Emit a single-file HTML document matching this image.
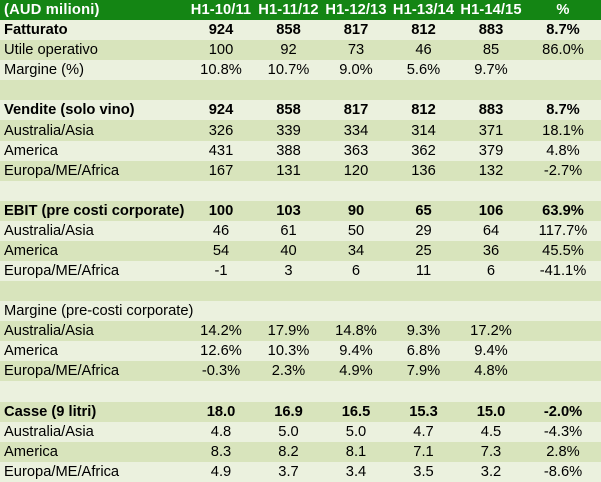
<!DOCTYPE html>
<html><head><meta charset="utf-8"><style>
html,body{margin:0;padding:0;width:601px;height:482px;overflow:hidden;background:#fff}
table{border-collapse:collapse;table-layout:fixed;width:601px;font-family:"Liberation Sans",Arial,sans-serif;font-size:14.7px;color:#000}
td{height:20.08px;padding:0;text-align:center;white-space:nowrap;line-height:20px;overflow:hidden}
td:first-child{text-align:left;padding-left:4px}
tr.h td{background:#148514;color:#fff;font-weight:bold;letter-spacing:0.1px}
tr.h td:first-child{letter-spacing:0.2px}
tr.a td{background:#ebf1de}
tr.b td{background:#d8e4bc}
tr.bo td{font-weight:bold}
</style></head><body>
<table>
<colgroup><col style="width:187px"><col style="width:68px"><col style="width:67px"><col style="width:68px"><col style="width:67px"><col style="width:68px"><col style="width:76px"></colgroup>
<tr class="h"><td>(AUD milioni)</td><td>H1-10/11</td><td>H1-11/12</td><td>H1-12/13</td><td>H1-13/14</td><td>H1-14/15</td><td>%</td></tr>
<tr class="a bo"><td>Fatturato</td><td>924</td><td>858</td><td>817</td><td>812</td><td>883</td><td>8.7%</td></tr>
<tr class="b"><td>Utile operativo</td><td>100</td><td>92</td><td>73</td><td>46</td><td>85</td><td>86.0%</td></tr>
<tr class="a"><td>Margine (%)</td><td>10.8%</td><td>10.7%</td><td>9.0%</td><td>5.6%</td><td>9.7%</td><td></td></tr>
<tr class="b"><td></td><td></td><td></td><td></td><td></td><td></td><td></td></tr>
<tr class="a bo"><td>Vendite (solo vino)</td><td>924</td><td>858</td><td>817</td><td>812</td><td>883</td><td>8.7%</td></tr>
<tr class="b"><td>Australia/Asia</td><td>326</td><td>339</td><td>334</td><td>314</td><td>371</td><td>18.1%</td></tr>
<tr class="a"><td>America</td><td>431</td><td>388</td><td>363</td><td>362</td><td>379</td><td>4.8%</td></tr>
<tr class="b"><td>Europa/ME/Africa</td><td>167</td><td>131</td><td>120</td><td>136</td><td>132</td><td>-2.7%</td></tr>
<tr class="a"><td></td><td></td><td></td><td></td><td></td><td></td><td></td></tr>
<tr class="b bo"><td>EBIT (pre costi corporate)</td><td>100</td><td>103</td><td>90</td><td>65</td><td>106</td><td>63.9%</td></tr>
<tr class="a"><td>Australia/Asia</td><td>46</td><td>61</td><td>50</td><td>29</td><td>64</td><td>117.7%</td></tr>
<tr class="b"><td>America</td><td>54</td><td>40</td><td>34</td><td>25</td><td>36</td><td>45.5%</td></tr>
<tr class="a"><td>Europa/ME/Africa</td><td>-1</td><td>3</td><td>6</td><td>11</td><td>6</td><td>-41.1%</td></tr>
<tr class="b"><td></td><td></td><td></td><td></td><td></td><td></td><td></td></tr>
<tr class="a"><td colspan="2">Margine (pre-costi corporate)</td><td></td><td></td><td></td><td></td><td></td></tr>
<tr class="b"><td>Australia/Asia</td><td>14.2%</td><td>17.9%</td><td>14.8%</td><td>9.3%</td><td>17.2%</td><td></td></tr>
<tr class="a"><td>America</td><td>12.6%</td><td>10.3%</td><td>9.4%</td><td>6.8%</td><td>9.4%</td><td></td></tr>
<tr class="b"><td>Europa/ME/Africa</td><td>-0.3%</td><td>2.3%</td><td>4.9%</td><td>7.9%</td><td>4.8%</td><td></td></tr>
<tr class="a"><td></td><td></td><td></td><td></td><td></td><td></td><td></td></tr>
<tr class="b bo"><td>Casse (9 litri)</td><td>18.0</td><td>16.9</td><td>16.5</td><td>15.3</td><td>15.0</td><td>-2.0%</td></tr>
<tr class="a"><td>Australia/Asia</td><td>4.8</td><td>5.0</td><td>5.0</td><td>4.7</td><td>4.5</td><td>-4.3%</td></tr>
<tr class="b"><td>America</td><td>8.3</td><td>8.2</td><td>8.1</td><td>7.1</td><td>7.3</td><td>2.8%</td></tr>
<tr class="a"><td>Europa/ME/Africa</td><td>4.9</td><td>3.7</td><td>3.4</td><td>3.5</td><td>3.2</td><td>-8.6%</td></tr>
</table>
</body></html>
